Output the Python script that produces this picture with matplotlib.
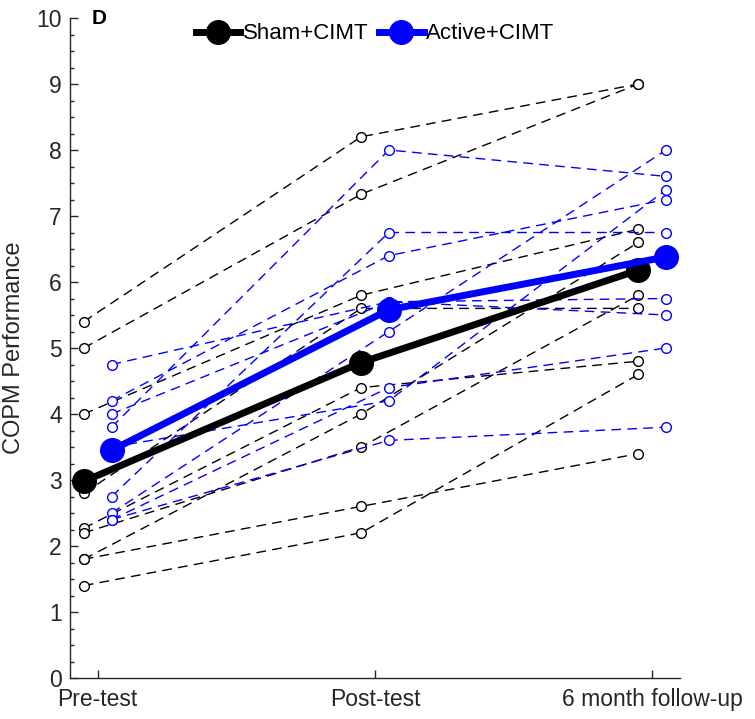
import matplotlib
matplotlib.use("Agg")
import matplotlib.pyplot as plt
import numpy as np

plt.rcParams['font.family'] = ['Liberation Sans', 'DejaVu Sans']

timepoints = ["Pre-test", "Post-test", "6 month follow-up"]

# Individual participants, Sham+CIMT (pre, post, follow-up)
sham_pre = [5.4, 5.0, 4.0, 2.8, 2.27, 2.2, 1.8, 1.8, 1.4]
sham_post = [8.2, 7.33, 5.8, 5.6, 4.4, 3.5, 4.0, 2.6, 2.2]
sham_follow = [9.0, 9.0, 6.8, 5.6, 4.8, 5.8, 6.6, 3.4, 4.6]

# Individual participants, Active+CIMT (pre, post, follow-up)
active_pre = [3.8, 2.75, 4.2, 4.75, 4.0, 2.5, 3.5, 2.4, 2.4]
active_post = [8.0, 6.75, 6.4, 5.7, 5.7, 5.25, 4.2, 4.4, 3.6]
active_follow = [7.6, 6.75, 7.25, 5.75, 5.5, 8.0, 7.4, 5.0, 3.8]

# Group means
sham_mean = [2.98, 4.78, 6.18]
active_mean = [3.45, 5.58, 6.38]

fig = plt.figure(figsize=(7.55, 7.19), dpi=100)
ax = fig.add_axes([70/755, 1-678/719, 610/755, 660/719])

x = np.arange(1, 4)
off = 0.05
dash = (7, 4.5)

for p, q, r in zip(sham_pre, sham_post, sham_follow):
    ax.plot(x - off, [p, q, r], color='black', lw=1.0, dashes=dash,
            marker='o', ms=7, mfc='white', mec='black', mew=1.0, zorder=2)
for p, q, r in zip(active_pre, active_post, active_follow):
    ax.plot(x + off, [p, q, r], color=(0, 0, 1), lw=1.0, dashes=dash,
            marker='o', ms=7, mfc='white', mec=(0, 0, 1), mew=1.0, zorder=2)

ax.plot(x - off, sham_mean, color='black', lw=5, marker='o', ms=17,
        label='Sham+CIMT', zorder=4)
ax.plot(x + off, active_mean, color=(0, 0, 1), lw=5, marker='o', ms=17,
        label='Active+CIMT', zorder=5)

ax.set_xlim(0.9, 3.1)
ax.set_ylim(0, 10)
ax.set_xticks(x)
ax.set_xticklabels(timepoints)
ax.set_yticks(np.arange(0, 11, 1))
ax.set_yticks(np.arange(0, 10.01, 0.25), minor=True)
for s in ['top', 'right']:
    ax.spines[s].set_visible(False)
for s in ['left', 'bottom']:
    ax.spines[s].set_color('#262626')
    ax.spines[s].set_linewidth(1.0)
ax.tick_params(axis='both', which='major', direction='in', length=6,
               labelsize=16.5, colors='#262626', width=1.0)
ax.tick_params(axis='y', which='minor', direction='in', length=3, width=1.0,
               colors='#262626')
ax.tick_params(axis='x', which='major', pad=7)
ax.tick_params(axis='y', which='major', pad=6)
ax.set_ylabel('COPM Performance', fontsize=17, color='#262626', labelpad=8)

leg = ax.legend(loc='upper center', bbox_to_anchor=(0.5, 1.012), ncol=2,
                frameon=False, fontsize=16, handlelength=2.0,
                columnspacing=0.5, handletextpad=0.1, borderaxespad=0.2)

fig.text(92/755, 1-18/719, 'D', fontsize=15, fontweight='bold',
         ha='left', va='center', color='black')

fig.savefig('out.png', dpi=100)
